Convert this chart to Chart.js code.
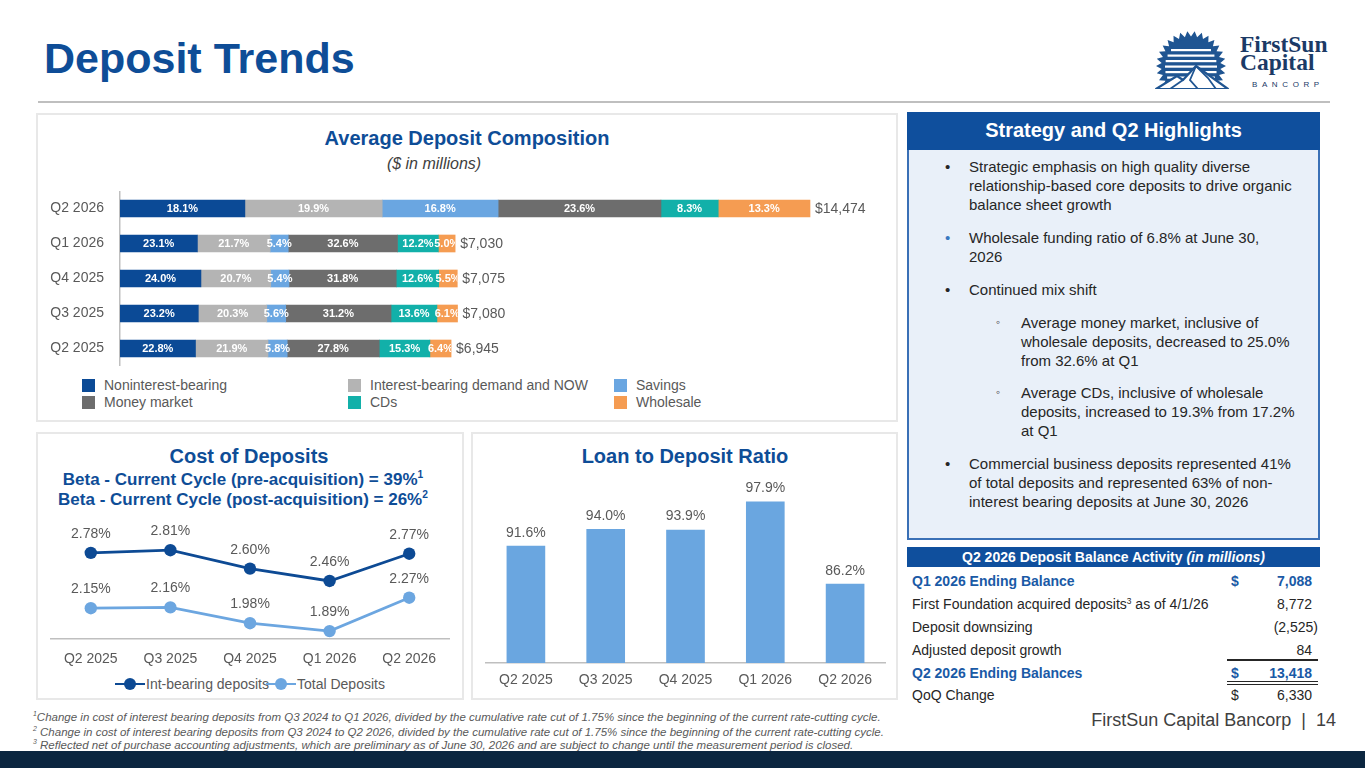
<!DOCTYPE html>
<html>
<head>
<meta charset="utf-8">
<script src="https://cdn.jsdelivr.net/npm/chart.js@4.4.1/dist/chart.umd.min.js"></script>
<style>
  html,body{margin:0;padding:0;}
  body{width:1365px;height:768px;overflow:hidden;background:#fff;position:relative;font-family:"Liberation Sans",Arial,sans-serif;color:#262626;}
  .abs{position:absolute;line-height:1;white-space:nowrap;}
  .panel{position:absolute;border:2px solid #E8E8E8;box-sizing:border-box;background:#fff;}
  .ctitle{position:absolute;line-height:1;white-space:nowrap;font-weight:bold;color:#0E4D97;text-align:center;}
  canvas{position:absolute;}
  .leg{position:absolute;line-height:1;font-size:14px;color:#595959;white-space:nowrap;}
  .sq{position:absolute;width:13px;height:13px;}
  .para{position:absolute;font-size:15px;line-height:19px;color:#262626;white-space:nowrap;}
  .blt{position:absolute;font-size:15px;line-height:19px;}
  .row{position:absolute;font-size:14px;line-height:1;white-space:nowrap;color:#262626;}
  .blue{color:#1A5AA6;font-weight:bold;}
  sup{font-size:60%;vertical-align:0;position:relative;top:-0.6em;line-height:0;}
  .fn{position:absolute;left:33px;font-size:11.5px;font-style:italic;color:#595959;line-height:1;white-space:nowrap;}
</style>
</head>
<body>

<!-- Title and separator -->
<div class="abs" style="left:44px;top:37px;font-size:43px;font-weight:bold;color:#0E4D97;">Deposit Trends</div>
<div style="position:absolute;left:38px;top:101px;width:1292px;height:1.5px;background:#BFBFBF;"></div>

<!-- Logo -->
<svg id="logo" style="position:absolute;left:1150px;top:28px;" width="100" height="66" viewBox="0 0 100 66"></svg>
<div class="abs" style="left:1240px;top:33px;font-family:'Liberation Serif','DejaVu Serif',serif;font-weight:bold;font-size:23.5px;color:#1B3A66;">FirstSun</div>
<div class="abs" style="left:1240px;top:51px;font-family:'Liberation Serif','DejaVu Serif',serif;font-weight:bold;font-size:23.5px;color:#1B3A66;">Capital</div>
<div class="abs" style="left:1252px;top:81px;font-size:8px;letter-spacing:4.6px;color:#1B3A66;">BANCORP</div>

<!-- Panels -->
<div class="panel" style="left:36px;top:113px;width:862px;height:309px;"></div>
<div class="panel" style="left:36px;top:432px;width:428px;height:268px;"></div>
<div class="panel" style="left:471px;top:432px;width:427px;height:268px;"></div>

<!-- Panel 1 texts -->
<div class="ctitle" style="left:267px;top:128px;width:400px;font-size:20px;">Average Deposit Composition</div>
<div class="abs" style="left:334px;top:155.5px;width:200px;text-align:center;font-size:16px;font-style:italic;color:#404040;">($ in millions)</div>
<canvas id="c1" width="855" height="175" style="left:40px;top:191px;"></canvas>
<div id="leg1"></div>

<!-- Panel 2 texts -->
<div class="ctitle" style="left:49px;top:446px;width:400px;font-size:20px;">Cost of Deposits</div>
<div class="ctitle" style="left:43px;top:470.6px;width:400px;font-size:17px;">Beta - Current Cycle (pre-acquisition) = 39%<sup>1</sup></div>
<div class="ctitle" style="left:43px;top:490.6px;width:400px;font-size:17px;">Beta - Current Cycle (post-acquisition) = 26%<sup>2</sup></div>
<canvas id="c2" width="420" height="160" style="left:40px;top:515px;"></canvas>
<div id="leg2"></div>

<!-- Panel 3 texts -->
<div class="ctitle" style="left:485px;top:446px;width:400px;font-size:20px;">Loan to Deposit Ratio</div>
<canvas id="c3" width="419" height="224" style="left:476px;top:475px;"></canvas>

<!-- Strategy box -->
<div style="position:absolute;left:907px;top:112px;width:413px;height:428px;box-sizing:border-box;border:2px solid #3A70B6;background:#E9F0F9;"></div>
<div style="position:absolute;left:907px;top:112px;width:413px;height:38px;background:#0F4F9D;"></div>
<div class="abs" style="left:907px;top:120px;width:413px;text-align:center;font-size:20px;font-weight:bold;color:#fff;">Strategy and Q2 Highlights</div>

<div class="blt" style="left:945px;top:157.3px;color:#262626;">•</div>
<div class="para" style="left:969px;top:157.3px;">Strategic emphasis on high quality diverse<br>relationship-based core deposits to drive organic<br>balance sheet growth</div>
<div class="blt" style="left:945px;top:228px;color:#3A78C0;">•</div>
<div class="para" style="left:969px;top:228px;">Wholesale funding ratio of 6.8% at June 30,<br>2026</div>
<div class="blt" style="left:945px;top:279.6px;color:#262626;">•</div>
<div class="para" style="left:969px;top:279.6px;">Continued mix shift</div>
<div class="blt" style="left:996px;top:313px;color:#262626;font-size:12px;">◦</div>
<div class="para" style="left:1021px;top:313px;">Average money market, inclusive of<br>wholesale deposits, decreased to 25.0%<br>from 32.6% at Q1</div>
<div class="blt" style="left:996px;top:383px;color:#262626;font-size:12px;">◦</div>
<div class="para" style="left:1021px;top:383px;">Average CDs, inclusive of wholesale<br>deposits, increased to 19.3% from 17.2%<br>at Q1</div>
<div class="blt" style="left:945px;top:454px;color:#262626;">•</div>
<div class="para" style="left:969px;top:454px;">Commercial business deposits represented 41%<br>of total deposits and represented 63% of non-<br>interest bearing deposits at June 30, 2026</div>

<!-- Table -->
<div style="position:absolute;left:907px;top:547px;width:413px;height:20px;background:#0F4F9D;"></div>
<div class="abs" style="left:907px;top:550.1px;width:413px;text-align:center;font-size:14px;font-weight:bold;color:#fff;">Q2 2026 Deposit Balance Activity <i>(in millions)</i></div>
<div id="tbl"></div>
<div style="position:absolute;left:1227px;top:659px;width:91px;height:1.5px;background:#262626;"></div>
<div style="position:absolute;left:1227px;top:681px;width:91px;height:1.3px;background:#262626;"></div>
<div style="position:absolute;left:1227px;top:684px;width:91px;height:1.3px;background:#262626;"></div>

<!-- Footer -->
<div class="abs" style="left:1036px;top:710.8px;width:300px;text-align:right;font-size:18px;color:#404040;">FirstSun Capital Bancorp &nbsp;|&nbsp; 14</div>
<div class="fn" style="top:711.5px;"><sup>1</sup>Change in cost of interest bearing deposits from Q3 2024 to Q1 2026, divided by the cumulative rate cut of 1.75% since the beginning of the current rate-cutting cycle.</div>
<div class="fn" style="top:726.5px;"><sup>2</sup> Change in cost of interest bearing deposits from Q3 2024 to Q2 2026, divided by the cumulative rate cut of 1.75% since the beginning of the current rate-cutting cycle.</div>
<div class="fn" style="top:739.5px;"><sup>3</sup> Reflected net of purchase accounting adjustments, which are preliminary as of June 30, 2026 and are subject to change until the measurement period is closed.</div>
<div style="position:absolute;left:0;top:751px;width:1365px;height:17px;background:#0B2640;"></div>

<script>
// ---------------- DATA ----------------
const compQuarters = ['Q2 2026', 'Q1 2026', 'Q4 2025', 'Q3 2025', 'Q2 2025'];
const compTotals = [14474, 7030, 7075, 7080, 6945];
const nonInterestPct = [18.1, 23.1, 24.0, 23.2, 22.8];
const ibDemandPct = [19.9, 21.7, 20.7, 20.3, 21.9];
const savingsPct = [16.8, 5.4, 5.4, 5.6, 5.8];
const moneyMarketPct = [23.6, 32.6, 31.8, 31.2, 27.8];
const cdsPct = [8.3, 12.2, 12.6, 13.6, 15.3];
const wholesalePct = [13.3, 5.0, 5.5, 6.1, 6.4];

const costQuarters = ['Q2 2025', 'Q3 2025', 'Q4 2025', 'Q1 2026', 'Q2 2026'];
const intBearingCost = [2.78, 2.81, 2.60, 2.46, 2.77];
const totalDepositCost = [2.15, 2.16, 1.98, 1.89, 2.27];

const ltdQuarters = ['Q2 2025', 'Q3 2025', 'Q4 2025', 'Q1 2026', 'Q2 2026'];
const ltdRatio = [91.6, 94.0, 93.9, 97.9, 86.2];

const tableLabels = ['Q1 2026 Ending Balance', 'First Foundation acquired deposits<sup>3</sup> as of 4/1/26', 'Deposit downsizing', 'Adjusted deposit growth', 'Q2 2026 Ending Balances', 'QoQ Change'];
const tableValues = ['7,088', '8,772', '(2,525)', '84', '13,418', '6,330'];
const tableDollar = [true, false, false, false, true, true];
const tableBold = [true, false, false, false, true, false];

// ---------------- STYLE ----------------
const FONT = "'Liberation Sans', Arial, sans-serif";
Chart.defaults.font.family = FONT;
const compSeries = [
  {label: 'Noninterest-bearing', pct: nonInterestPct, color: '#0B4A96'},
  {label: 'Interest-bearing demand and NOW', pct: ibDemandPct, color: '#B4B4B4'},
  {label: 'Savings', pct: savingsPct, color: '#6AA6E1'},
  {label: 'Money market', pct: moneyMarketPct, color: '#6D6D6D'},
  {label: 'CDs', pct: cdsPct, color: '#12B0A9'},
  {label: 'Wholesale', pct: wholesalePct, color: '#F59C52'}
];

// ---------------- LOGO (decorative) ----------------
(function(){
  const svg = document.getElementById('logo');
  const ns = 'http://www.w3.org/2000/svg';
  const cx = 41, cy = 38, ro = 35, ri = 29.5, n = 30;
  let pts = [];
  for (let k = 0; k < n * 2; k++) {
    const a = Math.PI * k / n;
    const r = k % 2 === 0 ? ro : ri;
    pts.push((cx + r * Math.cos(a)).toFixed(2) + ',' + (cy + r * Math.sin(a)).toFixed(2));
  }
  const defs = document.createElementNS(ns, 'defs');
  defs.innerHTML = '<clipPath id="cl"><rect x="0" y="0" width="100" height="61"/></clipPath>';
  svg.appendChild(defs);
  const g = document.createElementNS(ns, 'g');
  g.setAttribute('clip-path', 'url(#cl)');
  let html = '<polygon points="' + pts.join(' ') + '" fill="#1F5592"/>';
  html += '<circle cx="' + cx + '" cy="' + cy + '" r="27" fill="#1F5592"/>';
  for (let y = cy - 17; y < cy + 22; y += 5.5) {
    const hw = Math.sqrt(Math.max(0, 27 * 27 - (y - cy) * (y - cy))) - 1;
    html += '<rect x="' + (cx - hw) + '" y="' + y + '" width="' + (2 * hw) + '" height="2.2" fill="#fff"/>';
  }
  html += '<polygon points="6,61 27,48 33,52 46,38 78,61" fill="#fff" stroke="#1F5592" stroke-width="2.2" stroke-linejoin="round"/>';
  html += '<polyline points="20,61 33,52" fill="none" stroke="#1F5592" stroke-width="1.8"/>';
  html += '<polyline points="46,38 40,52 48,61" fill="none" stroke="#1F5592" stroke-width="1.8"/>';
  html += '<polyline points="46,38 58,50 66,61" fill="none" stroke="#1F5592" stroke-width="1.8"/>';
  g.innerHTML = html;
  svg.appendChild(g);
})();

// ---------------- LEGENDS ----------------
(function(){
  const leg = document.getElementById('leg1');
  const colX = [82, 348, 614];
  const rowY = [385, 402];
  compSeries.forEach((s, i) => {
    const c = i % 3, r = Math.floor(i / 3);
    const sq = document.createElement('div');
    sq.className = 'sq';
    sq.style.left = colX[c] + 'px';
    sq.style.top = (rowY[r] - 6.5) + 'px';
    sq.style.background = s.color;
    leg.appendChild(sq);
    const t = document.createElement('div');
    t.className = 'leg';
    t.style.left = (colX[c] + 22) + 'px';
    t.style.top = (rowY[r] + 5 - 11.85) + 'px';
    t.textContent = s.label;
    leg.appendChild(t);
  });
})();

// ---------------- TABLE ----------------
(function(){
  const tbl = document.getElementById('tbl');
  const base = [586, 609, 632, 655, 678, 700];
  tableLabels.forEach((lab, i) => {
    const top = (base[i] - 11.85) + 'px';
    const cls = 'row' + (tableBold[i] ? ' blue' : '');
    const a = document.createElement('div');
    a.className = cls; a.style.left = '912px'; a.style.top = top; a.innerHTML = lab;
    tbl.appendChild(a);
    if (tableDollar[i]) {
      const d = document.createElement('div');
      d.className = cls; d.style.left = '1225px'; d.style.width = '20px'; d.style.textAlign = 'center'; d.style.top = top; d.textContent = '$';
      tbl.appendChild(d);
    }
    const v = document.createElement('div');
    v.className = cls; v.style.left = '1212px'; v.style.width = (tableValues[i].endsWith(')') ? 106 : 100) + 'px'; v.style.textAlign = 'right'; v.style.top = top; v.textContent = tableValues[i];
    tbl.appendChild(v);
  });
})();

// ---------------- CHART 1: stacked horizontal bars ----------------
const stackLabels = {
  id: 'stackLabels',
  afterDatasetsDraw(chart) {
    const ctx = chart.ctx, area = chart.chartArea;
    const last = chart.getDatasetMeta(chart.data.datasets.length - 1).data;
    ctx.save();
    compQuarters.forEach((q, i) => {
      const endX = last[i].x;
      const y = last[i].y;
      ctx.save();
      ctx.beginPath();
      ctx.rect(area.left, y - 10, endX - area.left, 20);
      ctx.clip();
      ctx.font = 'bold 11px ' + FONT;
      ctx.fillStyle = '#fff';
      ctx.textAlign = 'center';
      ctx.textBaseline = 'middle';
      compSeries.forEach((s, di) => {
        const el = chart.getDatasetMeta(di).data[i];
        ctx.fillText(s.pct[i].toFixed(1) + '%', (el.x + el.base) / 2, y + 0.5);
      });
      ctx.restore();
      ctx.font = '14px ' + FONT;
      ctx.fillStyle = '#595959';
      ctx.textAlign = 'left';
      ctx.textBaseline = 'middle';
      ctx.fillText('$' + compTotals[i].toLocaleString('en-US'), endX + 5, y + 0.5);
    });
    ctx.restore();
  }
};

new Chart(document.getElementById('c1'), {
  type: 'bar',
  data: {
    labels: compQuarters,
    datasets: compSeries.map(s => ({
      label: s.label,
      data: s.pct.map((p, i) => p * compTotals[i] / 100),
      backgroundColor: s.color,
      borderWidth: 0,
      barThickness: 17
    }))
  },
  options: {
    indexAxis: 'y',
    responsive: false,
    animation: false,
    events: [],
    layout: {padding: 0},
    plugins: {legend: {display: false}, tooltip: {enabled: false}},
    scales: {
      x: {stacked: true, display: false, min: 0, max: 16257},
      y: {
        stacked: true,
        grid: {display: false, drawTicks: false},
        border: {display: true, color: '#BFBFBF', width: 1.5},
        ticks: {color: '#595959', font: {size: 14}, padding: 16},
        afterFit(a) { a.width = 80; a.paddingTop = 0; a.paddingBottom = 0; }
      }
    }
  },
  plugins: [stackLabels]
});

// ---------------- value labels plugin ----------------
const valueLabels = {
  id: 'valueLabels',
  afterDatasetsDraw(chart, args, opts) {
    const ctx = chart.ctx;
    ctx.save();
    ctx.font = '14px ' + FONT;
    ctx.fillStyle = '#595959';
    ctx.textAlign = 'center';
    ctx.textBaseline = 'middle';
    chart.data.datasets.forEach((ds, di) => {
      chart.getDatasetMeta(di).data.forEach((el, i) => {
        ctx.fillText(ds.data[i].toFixed(opts.decimals) + '%', el.x, el.y - opts.offset);
      });
    });
    ctx.restore();
  }
};

// ---------------- CHART 2: cost of deposits ----------------
const lineSeries = [
  {label: 'Int-bearing deposits', data: intBearingCost, color: '#0D4A94'},
  {label: 'Total Deposits', data: totalDepositCost, color: '#6CA6E0'}
];
new Chart(document.getElementById('c2'), {
  type: 'line',
  data: {
    labels: costQuarters,
    datasets: lineSeries.map(s => ({
      label: s.label, data: s.data,
      borderColor: s.color, backgroundColor: s.color,
      pointBackgroundColor: s.color, pointBorderWidth: 0,
      borderWidth: 2.75, pointRadius: 6.2, tension: 0
    }))
  },
  options: {
    responsive: false, animation: false, events: [],
    layout: {padding: {left: 11, right: 11, top: 5, bottom: 0}},
    plugins: {legend: {display: false}, tooltip: {enabled: false}, valueLabels: {decimals: 2, offset: 19}},
    scales: {
      x: {
        offset: true,
        grid: {display: false, drawTicks: false},
        border: {display: true, color: '#BFBFBF', width: 1.5},
        ticks: {color: '#595959', font: {size: 14}, padding: 12},
        afterFit(a) { a.height = 36; }
      },
      y: {display: false, min: 1.8, max: 3.14}
    }
  },
  plugins: [valueLabels]
});
(function(){
  const leg = document.getElementById('leg2');
  const pos = [{m: 115, t: 146}, {m: 266, t: 297}];
  lineSeries.forEach((s, i) => {
    const ln = document.createElement('div');
    ln.style.cssText = 'position:absolute;left:' + pos[i].m + 'px;top:682.6px;width:30px;height:2.8px;background:' + s.color;
    leg.appendChild(ln);
    const dot = document.createElement('div');
    dot.style.cssText = 'position:absolute;left:' + (pos[i].m + 9) + 'px;top:678px;width:12px;height:12px;border-radius:50%;background:' + s.color;
    leg.appendChild(dot);
    const t = document.createElement('div');
    t.className = 'leg';
    t.style.left = pos[i].t + 'px';
    t.style.top = '677.1px';
    t.textContent = s.label;
    leg.appendChild(t);
  });
})();

// ---------------- CHART 3: loan to deposit ----------------
new Chart(document.getElementById('c3'), {
  type: 'bar',
  data: {
    labels: ltdQuarters,
    datasets: [{label: 'Loan to Deposit Ratio', data: ltdRatio, backgroundColor: '#6AA6E0', borderWidth: 0, barThickness: 38}]
  },
  options: {
    responsive: false, animation: false, events: [],
    layout: {padding: {left: 10, right: 10, top: 5, bottom: 0}},
    plugins: {legend: {display: false}, tooltip: {enabled: false}, valueLabels: {decimals: 1, offset: 13.5}},
    scales: {
      x: {
        grid: {display: false, drawTicks: false},
        border: {display: true, color: '#BFBFBF', width: 1.5},
        ticks: {color: '#595959', font: {size: 14}, padding: 9},
        afterFit(a) { a.height = 36; }
      },
      y: {display: false, min: 75, max: 101}
    }
  },
  plugins: [valueLabels]
});
</script>
</body>
</html>
